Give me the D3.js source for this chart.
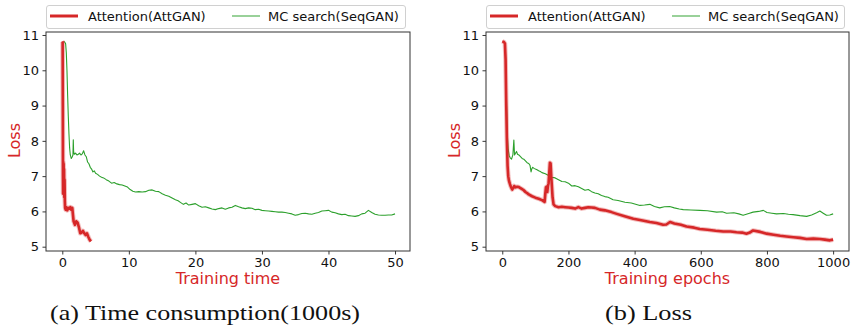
<!DOCTYPE html>
<html><head><meta charset="utf-8">
<script src="https://cdn.jsdelivr.net/npm/d3@7"></script>
<style>html,body{margin:0;padding:0;background:#fff;} svg{display:block;}</style>
</head><body>
<svg id="chart" width="853" height="326"></svg>
<script>
// ---------- data ----------
const seriesNames = ["Attention(AttGAN)", "MC search(SeqGAN)"];
const yTicks = [5, 6, 7, 8, 9, 10, 11];
const timeTicks = [0, 10, 20, 30, 40, 50];
const epochTicks = [0, 200, 400, 600, 800, 1000];
const captions = ["(a) Time consumption(1000s)", "(b) Loss"];
const xLabels = ["Training time", "Training epochs"];
const yLabel = "Loss";

// (a) loss vs training time (1000s)
const timeAttX = [0, 0.05, 0.08, 0.1, 0.12, 0.15, 0.18, 0.2, 0.23, 0.26, 0.3, 0.34, 0.38, 0.42, 0.5, 0.6, 0.75, 0.9, 1.05, 1.2, 1.35, 1.5, 1.6, 1.7, 1.9, 2.1, 2.3, 2.5, 2.7, 2.9, 3.1, 3.3, 3.5, 3.7, 3.9, 4.1, 4.3];
const timeAttY = [10.82, 10.8, 9.0, 7.0, 6.5, 7.4, 6.6, 7.35, 6.5, 7.2, 6.4, 6.9, 6.3, 6.1, 6.05, 6.12, 6.03, 6.1, 6.08, 6.12, 6.05, 6.1, 5.9, 5.72, 5.62, 5.72, 5.68, 5.55, 5.38, 5.4, 5.45, 5.38, 5.33, 5.38, 5.28, 5.2, 5.15];
const timeMcX = [0.2, 0.35, 0.5, 0.6, 0.7, 0.8, 0.9, 1.0, 1.1, 1.2, 1.35, 1.5, 1.6, 1.65, 1.7, 1.8, 2.0, 2.2, 2.4, 2.6, 2.8, 3.0, 3.2, 3.4, 3.6, 3.8, 4.0, 4.2, 4.4, 4.6, 4.8, 5.0, 5.3, 5.6, 5.9, 6.2, 6.6, 7.0, 7.4, 7.8, 8.2, 8.6, 9.0, 9.4, 9.8, 10.2, 10.6, 11.0, 11.5, 12.0, 12.5, 13.0, 13.5, 14.0, 14.5, 15.0, 15.5, 16.0, 16.5, 17.0, 17.4, 17.8, 18.2, 18.6, 19.0, 19.5, 20.0, 20.5, 21.0, 21.5, 22.0, 22.5, 23.0, 23.5, 24.0, 24.5, 25.0, 25.5, 26.0, 26.5, 27.0, 27.5, 28.0, 28.5, 29.0, 29.5, 30.0, 30.5, 31.0, 31.5, 32.0, 32.5, 33.0, 33.5, 34.0, 34.5, 35.0, 35.5, 36.0, 36.5, 37.0, 37.5, 38.0, 38.5, 39.0, 39.5, 40.0, 40.5, 41.0, 41.5, 42.0, 42.5, 43.0, 43.5, 44.0, 44.5, 45.0, 45.5, 46.0, 46.5, 47.0, 47.5, 48.0, 48.5, 49.0, 49.5, 50.0];
const timeMcY = [10.82, 10.8, 10.75, 10.5, 10.0, 9.3, 8.7, 8.2, 7.8, 7.6, 7.5, 7.55, 7.6, 8.03, 7.7, 7.62, 7.65, 7.6, 7.62, 7.65, 7.6, 7.63, 7.72, 7.6, 7.55, 7.4, 7.35, 7.25, 7.2, 7.12, 7.15, 7.08, 7.05, 7.0, 6.97, 6.95, 6.9, 6.86, 6.8, 6.82, 6.78, 6.76, 6.75, 6.72, 6.69, 6.62, 6.57, 6.55, 6.56, 6.55, 6.56, 6.6, 6.61, 6.57, 6.56, 6.5, 6.46, 6.43, 6.38, 6.33, 6.3, 6.25, 6.2, 6.24, 6.18, 6.2, 6.22, 6.16, 6.12, 6.13, 6.1, 6.07, 6.05, 6.08, 6.1, 6.06, 6.1, 6.12, 6.17, 6.13, 6.1, 6.08, 6.1, 6.09, 6.05, 6.06, 6.03, 6.02, 6.01, 6.0, 5.99, 5.98, 5.98, 5.97, 5.95, 5.93, 5.89, 5.91, 5.94, 5.95, 5.93, 5.92, 5.95, 5.97, 6.01, 6.02, 6.03, 5.98, 5.96, 5.93, 5.91, 5.92, 5.88, 5.87, 5.86, 5.88, 5.93, 5.95, 6.03, 5.97, 5.92, 5.9, 5.89, 5.89, 5.9, 5.9, 5.93];

// (b) loss vs training epochs
const epochAttX = [0, 5, 8, 10, 12, 14, 16, 18, 20, 23, 26, 30, 33, 36, 40, 45, 50, 55, 60, 65, 70, 75, 80, 90, 100, 110, 120, 128, 130, 132, 134, 136, 138, 140, 144, 146, 148, 150, 152, 155, 160, 170, 180, 190, 200, 210, 220, 230, 240, 250, 260, 270, 280, 295, 310, 330, 346, 370, 396, 420, 446, 466, 486, 496, 507, 520, 540, 557, 580, 597, 620, 645, 668, 690, 708, 725, 738, 748, 758, 780, 799, 820, 840, 859, 880, 900, 920, 940, 960, 975, 990, 1000];
const epochAttY = [10.82, 10.8, 10.76, 10.3, 9.0, 8.0, 7.3, 7.0, 6.88, 6.78, 6.7, 6.62, 6.66, 6.72, 6.68, 6.7, 6.69, 6.66, 6.63, 6.6, 6.55, 6.52, 6.48, 6.43, 6.39, 6.36, 6.32, 6.27, 6.5, 6.68, 6.7, 6.55, 6.72, 6.8, 7.38, 7.36, 7.0, 6.7, 6.4, 6.2, 6.15, 6.12, 6.13, 6.12, 6.11, 6.1, 6.08, 6.12, 6.08, 6.1, 6.12, 6.11, 6.1, 6.05, 6.03, 5.98, 5.93, 5.86, 5.79, 5.75, 5.7, 5.67, 5.62, 5.63, 5.7, 5.66, 5.62, 5.57, 5.54, 5.5, 5.48, 5.45, 5.43, 5.43, 5.41, 5.4, 5.37, 5.4, 5.46, 5.42, 5.37, 5.34, 5.31, 5.29, 5.27, 5.25, 5.22, 5.23, 5.22, 5.2, 5.18, 5.2];
const epochMcX = [3, 7, 9, 11, 13, 15, 18, 21, 24, 28, 32, 35, 37, 40, 43, 46, 50, 55, 60, 65, 70, 75, 80, 84, 87, 89, 92, 96, 100, 105, 110, 115, 120, 130, 140, 150, 160, 170, 180, 190, 200, 210, 220, 230, 240, 250, 260, 270, 280, 290, 300, 310, 320, 335, 350, 371, 390, 416, 430, 446, 460, 476, 490, 506, 520, 535, 547, 570, 597, 620, 648, 665, 678, 700, 715, 728, 745, 758, 775, 789, 800, 815, 829, 850, 865, 879, 900, 920, 935, 950, 960, 970, 980, 990, 1000];
const epochMcY = [10.82, 10.78, 10.7, 10.0, 9.0, 8.2, 7.75, 7.58, 7.52, 7.48, 7.6, 8.02, 7.6, 7.65, 7.7, 7.62, 7.6, 7.55, 7.5, 7.48, 7.43, 7.38, 7.36, 7.3, 7.12, 7.2, 7.25, 7.22, 7.2, 7.18, 7.15, 7.13, 7.1, 7.07, 7.02, 6.97, 6.95, 6.9, 6.85, 6.84, 6.8, 6.72, 6.73, 6.7, 6.65, 6.6, 6.62, 6.56, 6.52, 6.5, 6.45, 6.42, 6.4, 6.33, 6.31, 6.26, 6.24, 6.17, 6.18, 6.2, 6.14, 6.1, 6.13, 6.14, 6.1, 6.07, 6.05, 6.04, 6.03, 6.02, 5.98, 5.99, 5.95, 5.96, 5.93, 5.89, 5.94, 5.98, 6.0, 6.03, 5.97, 5.95, 5.93, 5.94, 5.92, 5.91, 5.88, 5.86, 5.9, 5.96, 6.01, 5.95, 5.89, 5.9, 5.93];

// ---------- drawing ----------
const RED = "#d62728", GREEN = "#2ca02c";
const svg = d3.select("#chart");

const panels = [
  {left: 46, right: 410, xDomain: [-2.45, 52.25], xTicks: timeTicks, att: [timeAttX, timeAttY], mc: [timeMcX, timeMcY], xLabel: xLabels[0], caption: captions[0], capX: 205, capW: 310, legend: {x0: 46, x1: 405}},
  {left: 486, right: 849, xDomain: [-49.2, 1048], xTicks: epochTicks, att: [epochAttX, epochAttY], mc: [epochMcX, epochMcY], xLabel: xLabels[1], caption: captions[1], capX: 648.5, capW: 87, legend: {x0: 486, x1: 844}}
];
const plotTop = 32, plotBottom = 251;

panels.forEach(p => {
  const g = svg.append("g");
  const x = d3.scaleLinear().domain(p.xDomain).range([p.left, p.right]);
  const y = d3.scaleLinear().domain([4.878, 11.085]).range([plotBottom, plotTop]);

  const line = d3.line().x(d => x(d[0])).y(d => y(d[1]));
  const attData = p.att[0].map((v, i) => [v, p.att[1][i]]);
  const mcData = p.mc[0].map((v, i) => [v, p.mc[1][i]]);

  const plot = g.append("g");
  plot.append("path").datum(mcData).attr("d", line)
    .attr("fill", "none").attr("stroke", GREEN).attr("stroke-width", 1.1).attr("stroke-linejoin", "round");
  plot.append("path").datum(attData).attr("d", line)
    .attr("fill", "none").attr("stroke", RED).attr("stroke-opacity", 0.3).attr("stroke-width", 4.6).attr("stroke-linejoin", "round");
  plot.append("path").datum(attData).attr("d", line)
    .attr("fill", "none").attr("stroke", RED).attr("stroke-width", 2.6).attr("stroke-linejoin", "round");

  // axes
  const xAxis = g.append("g").attr("transform", `translate(0,${plotBottom})`)
    .call(d3.axisBottom(x).tickValues(p.xTicks).tickSize(3.5).tickPadding(3).tickFormat(d3.format("d")));
  const yAxis = g.append("g").attr("transform", `translate(${p.left},0)`)
    .call(d3.axisLeft(y).tickValues(yTicks).tickSize(3.5).tickPadding(3.5).tickFormat(d3.format("d")));
  [xAxis, yAxis].forEach(a => {
    a.select(".domain").remove();
    a.selectAll(".tick line").attr("stroke", "#222").attr("stroke-width", 0.9);
    a.selectAll(".tick text").attr("font-family", "DejaVu Sans").attr("font-size", 13).attr("fill", "#111");
  });
  // frame
  g.append("rect").attr("x", p.left).attr("y", plotTop).attr("width", p.right - p.left).attr("height", plotBottom - plotTop)
    .attr("fill", "none").attr("stroke", "#333").attr("stroke-width", 1);

  // labels
  g.append("text").attr("x", (p.left + p.right) / 2).attr("y", 284)
    .attr("text-anchor", "middle").attr("font-family", "DejaVu Sans").attr("font-size", 16).attr("fill", RED)
    .text(p.xLabel);
  g.append("text").attr("transform", `translate(${p.left - 26},140.5) rotate(-90)`)
    .attr("text-anchor", "middle").attr("font-family", "DejaVu Sans").attr("font-size", 16).attr("fill", RED)
    .text(yLabel);
  g.append("text").attr("x", p.capX).attr("y", 319.5)
    .attr("text-anchor", "middle").attr("font-family", "Liberation Serif").attr("font-size", 21.5).attr("fill", "#111")
    .attr("textLength", p.capW).attr("lengthAdjust", "spacingAndGlyphs")
    .text(p.caption);

  // legend
  const L = p.legend;
  const lg = g.append("g");
  lg.append("rect").attr("x", L.x0 + 0.5).attr("y", 5.5).attr("width", L.x1 - L.x0).attr("height", 23).attr("rx", 2.5)
    .attr("fill", "#fff").attr("stroke", "#d0d0d0").attr("stroke-width", 1);
  const items = [
    {name: seriesNames[0], color: RED, w: 3, sx: L.x0 + 4, tx: L.x0 + 42},
    {name: seriesNames[1], color: GREEN, w: 1.3, sx: L.x0 + 186, tx: L.x0 + 222}
  ];
  items.forEach(it => {
    lg.append("line").attr("x1", it.sx).attr("x2", it.sx + 28).attr("y1", 16).attr("y2", 16)
      .attr("stroke", it.color).attr("stroke-width", it.w).attr("stroke-opacity", it.w < 2 ? 0.75 : 1);
    lg.append("text").attr("x", it.tx).attr("y", 20.5).attr("font-family", "DejaVu Sans").attr("font-size", 13)
      .attr("fill", "#111").text(it.name);
  });
});
</script>
</body></html>
